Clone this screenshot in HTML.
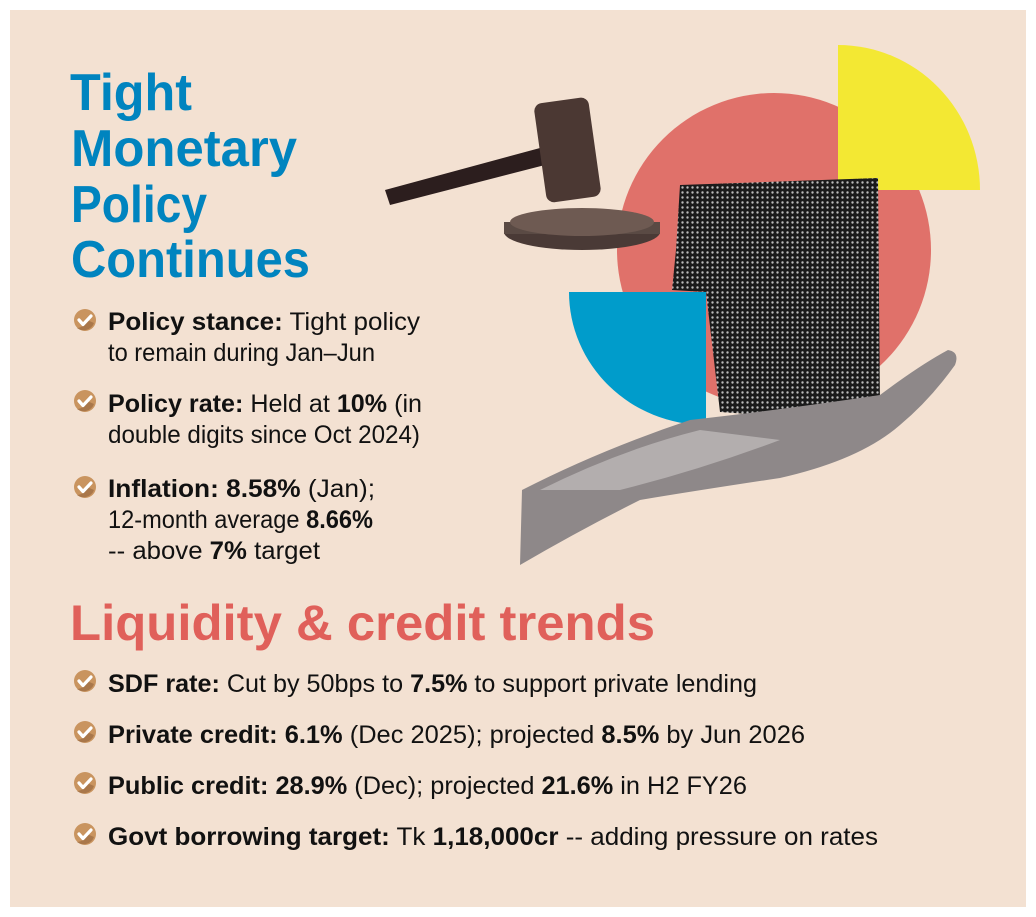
<!DOCTYPE html>
<html><head><meta charset="utf-8"><style>
html,body{margin:0;padding:0;background:#fff;}
svg{display:block;}
text{font-family:"Liberation Sans",sans-serif;}
</style></head><body>
<svg width="1036" height="917" viewBox="0 0 1036 917" xmlns="http://www.w3.org/2000/svg">
<defs>
<pattern id="dots" width="5" height="5" patternUnits="userSpaceOnUse">
<rect width="5" height="5" fill="#1a1a1a"/><circle cx="2.5" cy="2.5" r="1.2" fill="#bbb"/>
</pattern>
<g id="chk"><circle r="11" fill="#c9945f"/><path d="M2 0 A11 11 0 0 1 -8 8 A11 11 0 0 0 9 3Z" fill="#a9774a"/><path d="M-6 0 L-2 4.5 L6 -4" stroke="#fff" stroke-width="3.2" fill="none" stroke-linecap="round" stroke-linejoin="round"/></g>
</defs>
<rect x="10" y="10" width="1016" height="897" fill="#f3e1d2"/>
<!-- illustration -->
<circle cx="774" cy="250" r="157" fill="#e0716a"/>
<path d="M838 190 L838 45 A142 145 0 0 1 980 190 Z" fill="#f3e833"/>
<path d="M706 292 L706 425 A137 133 0 0 1 569 292 Z" fill="#009ccb"/>
<path d="M680 185 L878 178 L880 410 L830 420 L720 412 L706 292 L672 290 L676 250 Z" fill="url(#dots)"/>
<path d="M520 565 L522 490 Q600 450 690 420 Q780 410 880 395 Q920 365 948 350 Q960 352 955 365 Q930 400 900 425 Q860 460 780 478 Q700 490 640 500 Q580 530 520 565Z" fill="#8e8889"/>
<path d="M540 490 Q620 450 700 430 L780 440 Q700 470 620 490Z" fill="#b3aeae"/>
<!-- gavel -->
<ellipse cx="582" cy="232" rx="78" ry="18" fill="#4a3a36"/>
<rect x="504" y="222" width="156" height="12" fill="#5a4a44"/>
<ellipse cx="582" cy="222" rx="72" ry="14" fill="#6e5a52"/>
<path d="M385 190 L540 148 L545 165 L390 205 Z" fill="#2c1e1e"/>
<rect x="540" y="100" width="55" height="100" rx="8" fill="#4b3833" transform="rotate(-8 567 150)"/>
<!-- title -->
<g fill="#0084bf" font-weight="bold" font-size="52">
<text x="70" y="110" textLength="122" lengthAdjust="spacingAndGlyphs">Tight</text>
<text x="71" y="166" textLength="226" lengthAdjust="spacingAndGlyphs">Monetary</text>
<text x="71" y="222" textLength="136" lengthAdjust="spacingAndGlyphs">Policy</text>
<text x="71" y="277" textLength="239" lengthAdjust="spacingAndGlyphs">Continues</text>
</g>
<g fill="#111" font-size="25">
<use href="#chk" x="85" y="320"/>
<text x="108" y="330" textLength="312" lengthAdjust="spacingAndGlyphs"><tspan font-weight="bold">Policy stance:</tspan> Tight policy</text>
<text x="108" y="361" textLength="267" lengthAdjust="spacingAndGlyphs">to remain during Jan–Jun</text>
<use href="#chk" x="85" y="401"/>
<text x="108" y="412" textLength="314" lengthAdjust="spacingAndGlyphs"><tspan font-weight="bold">Policy rate:</tspan> Held at <tspan font-weight="bold">10%</tspan> (in</text>
<text x="108" y="443" textLength="312" lengthAdjust="spacingAndGlyphs">double digits since Oct 2024)</text>
<use href="#chk" x="85" y="487"/>
<text x="108" y="497" textLength="267" lengthAdjust="spacingAndGlyphs"><tspan font-weight="bold">Inflation: 8.58%</tspan> (Jan);</text>
<text x="108" y="528" textLength="265" lengthAdjust="spacingAndGlyphs">12-month average <tspan font-weight="bold">8.66%</tspan></text>
<text x="108" y="559" textLength="212" lengthAdjust="spacingAndGlyphs">-- above <tspan font-weight="bold">7%</tspan> target</text>
</g>
<text x="70" y="640" fill="#e0605a" font-weight="bold" font-size="50" textLength="585" lengthAdjust="spacingAndGlyphs">Liquidity &amp; credit trends</text>
<g fill="#111" font-size="25">
<use href="#chk" x="85" y="681"/>
<text x="108" y="692" textLength="649" lengthAdjust="spacingAndGlyphs"><tspan font-weight="bold">SDF rate:</tspan> Cut by 50bps to <tspan font-weight="bold">7.5%</tspan> to support private lending</text>
<use href="#chk" x="85" y="732"/>
<text x="108" y="743" textLength="697" lengthAdjust="spacingAndGlyphs"><tspan font-weight="bold">Private credit: 6.1%</tspan> (Dec 2025); projected <tspan font-weight="bold">8.5%</tspan> by Jun 2026</text>
<use href="#chk" x="85" y="783"/>
<text x="108" y="794" textLength="639" lengthAdjust="spacingAndGlyphs"><tspan font-weight="bold">Public credit: 28.9%</tspan> (Dec); projected <tspan font-weight="bold">21.6%</tspan> in H2 FY26</text>
<use href="#chk" x="85" y="834"/>
<text x="108" y="845" textLength="770" lengthAdjust="spacingAndGlyphs"><tspan font-weight="bold">Govt borrowing target:</tspan> Tk <tspan font-weight="bold">1,18,000cr</tspan> -- adding pressure on rates</text>
</g>
</svg>
</body></html>
